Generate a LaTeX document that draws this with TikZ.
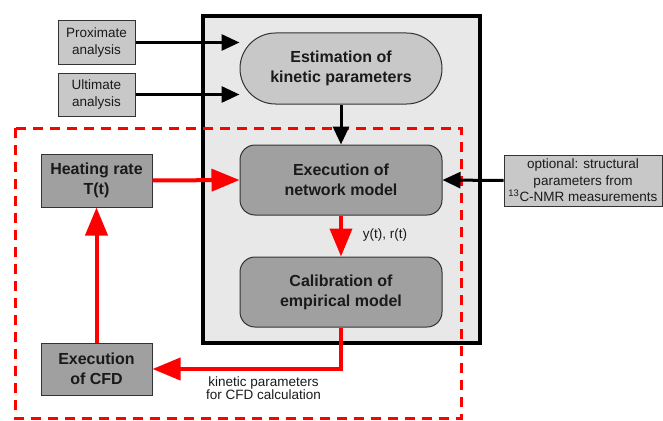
\documentclass[tikz,border=0pt]{standalone}
\usepackage{fontspec}
\setmainfont{Liberation Sans}
\usetikzlibrary{arrows.meta,shapes.misc}
\definecolor{boxbg}{HTML}{E8E8E8}
\definecolor{lightnode}{HTML}{C8C8C8}
\definecolor{darknode}{HTML}{A0A0A0}
\definecolor{edge}{HTML}{333333}
\definecolor{ink}{HTML}{1A1A1A}
\definecolor{redline}{HTML}{FF0000}
\tikzset{
  small/.style={font=\fontsize{13.5}{16.5}\selectfont, text=ink, align=center},
  big/.style={font=\fontsize{16}{20}\selectfont\bfseries, text=ink, align=center},
  inbox/.style={draw=edge, line width=1pt, fill=lightnode, inner sep=0pt, small},
  darkbox/.style={draw=edge, line width=1pt, fill=darknode, inner sep=0pt, big},
  roundbox/.style={draw=edge, line width=1pt, fill=darknode, inner sep=0pt, big, rounded corners=15pt, minimum width=202pt, minimum height=70pt},
  blackarrow/.style={line width=3pt, draw=black, -{Triangle[length=18pt,width=16pt]}},
  redarrow/.style={line width=4pt, draw=redline, -{Triangle[length=28pt,width=22pt]}},
}
\begin{document}
\begin{tikzpicture}[x=1pt,y=-1pt]
\useasboundingbox (0,0) rectangle (663,420);
% main box
\draw[line width=4pt, fill=boxbg] (203,16) rectangle (480,343);
% nodes
\node[inbox, minimum width=77pt, minimum height=43pt] (prox) at (96.5,42.5) {Proximate\\analysis};
\node[inbox, minimum width=77pt, minimum height=43pt] (ult) at (96.5,94.5) {Ultimate\\analysis};
\node[draw=edge, line width=1pt, fill=lightnode, rounded rectangle, inner sep=0pt, minimum width=202pt, minimum height=71pt, big] (est) at (341,68.5) {Estimation of\\kinetic parameters};
\node[roundbox] (net) at (341,180) {Execution of\\network model};
\node[roundbox] (cal) at (341,292) {Calibration of\\empirical model};
\node[darkbox, minimum width=111pt, minimum height=53pt] (heat) at (96.5,180.5) {Heating rate\\T(t)};
\node[darkbox, minimum width=111pt, minimum height=52pt] (cfd) at (96.5,369) {Execution\\of CFD};
\node[inbox, minimum width=158pt, minimum height=51pt] (opt) at (583,180.5) {optional: structural\\parameters from\\\textsuperscript{13}C-NMR measurements};
% red dashed frame
\draw[redline, line width=3pt, dash pattern=on 10pt off 7pt] (15,128) rectangle (461,418.5);
% black arrows
\draw[blackarrow] (prox.east) -- (prox.east -| est.west);
\draw[blackarrow] (ult.east) -- (ult.east -| est.west);
\draw[blackarrow] (est.south) -- (net.north);
\draw[blackarrow] (opt.west) -- (net.east);
% red arrows
\draw[redarrow] (heat.east) -- (net.west);
\draw[redarrow] (net.south) -- (cal.north);
\draw[redarrow] (cal.south) |- (cfd.east);
\draw[redarrow] (cfd.north) -- (heat.south);
% labels
\node[small] (lbly) at (385,235) {y(t), r(t)};
\node[font=\fontsize{13.5}{13}\selectfont, text=ink, align=center] (lblk) at (263.5,388) {kinetic parameters\\for CFD calculation};
\end{tikzpicture}
\end{document}
